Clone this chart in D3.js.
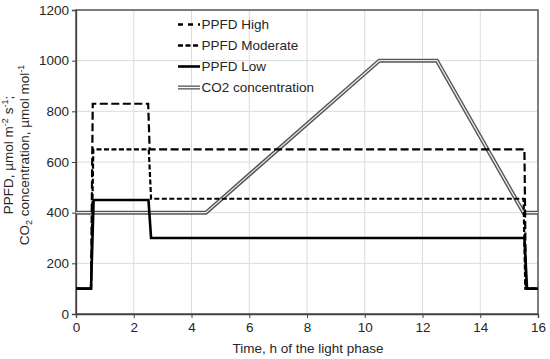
<!DOCTYPE html>
<html>
<head>
<meta charset="utf-8">
<script src="https://cdn.jsdelivr.net/npm/d3@7"></script>
<style>
  body { margin: 0; background: #fff; }
  svg text { font-family: "Liberation Sans", Arial, sans-serif; }
</style>
</head>
<body>
<svg width="550" height="359"></svg>
<script>
// time (h) and PPFD / CO2 values for each series
var lowT  = [0, 0.52, 0.61, 2.51, 2.6, 15.53, 15.62, 16];
var lowV  = [100, 100, 450, 450, 300, 300, 100, 100];
var highT = [0, 0.52, 0.58, 2.5, 2.55, 15.53, 15.58, 16];
var highV = [100, 100, 830, 830, 650, 650, 100, 100];
var modT  = [0, 0.52, 0.6, 2.52, 2.6, 15.5, 15.56, 16];
var modV  = [100, 100, 650, 650, 455, 455, 100, 100];
var co2T  = [0, 4.5, 10.5, 12.5, 15.5, 16];
var co2V  = [400, 400, 1000, 1000, 400, 400];

var xTicks = [0, 2, 4, 6, 8, 10, 12, 14, 16];
var yTicks = [0, 200, 400, 600, 800, 1000, 1200];

var svg = d3.select("svg"),
    margin = {left: 76, right: 12, top: 10, bottom: 45},
    width = +svg.attr("width"),
    height = +svg.attr("height");

var x = d3.scaleLinear().domain([0, 16]).range([margin.left, width - margin.right]);
var y = d3.scaleLinear().domain([0, 1200]).range([height - margin.bottom, margin.top]);

// grid
svg.append("g").selectAll("line").data(xTicks).enter().append("line")
    .attr("x1", function(d) { return x(d); }).attr("x2", function(d) { return x(d); })
    .attr("y1", y(0)).attr("y2", y(1200))
    .attr("stroke", "#dcdcdc").attr("stroke-width", 1);
svg.append("g").selectAll("line").data(yTicks).enter().append("line")
    .attr("y1", function(d) { return y(d); }).attr("y2", function(d) { return y(d); })
    .attr("x1", x(0)).attr("x2", x(16))
    .attr("stroke", "#dcdcdc").attr("stroke-width", 1);

// frame
svg.append("rect")
    .attr("x", x(0)).attr("y", y(1200))
    .attr("width", x(16) - x(0)).attr("height", y(0) - y(1200))
    .attr("fill", "none").attr("stroke", "#404040").attr("stroke-width", 1.3);

// axes
var xAxis = svg.append("g")
    .attr("transform", "translate(0," + y(0) + ")")
    .call(d3.axisBottom(x).tickValues(xTicks).tickFormat(d3.format("d")).tickSize(4).tickPadding(4));
var yAxis = svg.append("g")
    .attr("transform", "translate(" + x(0) + ",0)")
    .call(d3.axisLeft(y).tickValues(yTicks).tickFormat(d3.format("d")).tickSize(4).tickPadding(3));
[xAxis, yAxis].forEach(function(a) {
  a.attr("font-family", null);
  a.select(".domain").attr("stroke", "#404040").attr("stroke-width", 1.3);
  a.selectAll(".tick line").attr("stroke", "#404040");
  a.selectAll("text").attr("font-size", 13.5).attr("fill", "#262626");
});

function pts(ts, vs) { return ts.map(function(t, i) { return [t, vs[i]]; }); }
var line = d3.line().x(function(d) { return x(d[0]); }).y(function(d) { return y(d[1]); });

// CO2 double line
svg.append("path").attr("d", line(pts(co2T, co2V)))
    .attr("fill", "none").attr("stroke", "#555").attr("stroke-width", 4);
svg.append("path").attr("d", line(pts(co2T, co2V)))
    .attr("fill", "none").attr("stroke", "#e8e8e8").attr("stroke-width", 1.3);

svg.append("path").attr("d", line(pts(lowT, lowV)))
    .attr("fill", "none").attr("stroke", "#000").attr("stroke-width", 2.6);
svg.append("path").attr("d", line(pts(modT, modV)))
    .attr("fill", "none").attr("stroke", "#000").attr("stroke-width", 2.2)
    .attr("stroke-dasharray", "5,2.5");
svg.append("path").attr("d", line(pts(highT, highV)))
    .attr("fill", "none").attr("stroke", "#000").attr("stroke-width", 2.2)
    .attr("stroke-dasharray", "8,3.5");

// legend
var legend = [
  {name: "PPFD High", dash: "5,5", w: 2.4},
  {name: "PPFD Moderate", dash: "5,2.5", w: 2.4},
  {name: "PPFD Low", dash: null, w: 2.6},
  {name: "CO2 concentration", dash: null, w: 4, co2: true}
];
var lg = svg.append("g").selectAll("g").data(legend).enter().append("g")
    .attr("transform", function(d, i) { return "translate(178," + (24.5 + i * 21) + ")"; });
lg.append("line").attr("x1", 0).attr("x2", 22).attr("y1", 0).attr("y2", 0)
    .attr("stroke", function(d) { return d.co2 ? "#555" : "#000"; })
    .attr("stroke-width", function(d) { return d.w; })
    .attr("stroke-dasharray", function(d) { return d.dash; });
lg.filter(function(d) { return d.co2; }).append("line")
    .attr("x1", 0).attr("x2", 22).attr("y1", 0).attr("y2", 0)
    .attr("stroke", "#fff").attr("stroke-width", 1.4);
lg.append("text").attr("x", 23.5).attr("y", 4.8).attr("font-size", 13.5).attr("fill", "#262626")
    .text(function(d) { return d.name; });

// axis titles
svg.append("text").attr("x", (x(0) + x(16)) / 2 + 1).attr("y", 353)
    .attr("text-anchor", "middle").attr("font-size", 13.5).attr("fill", "#262626")
    .text("Time, h of the light phase");

var yt = svg.append("text").attr("transform", "translate(0,155) rotate(-90)")
    .attr("text-anchor", "middle").attr("font-size", 13.5).attr("fill", "#262626");
var l1 = yt.append("tspan").attr("x", 0).attr("y", 13);
l1.append("tspan").text("PPFD, µmol m");
l1.append("tspan").attr("dy", -5).attr("font-size", 9).text("-2");
l1.append("tspan").attr("dy", 5).text(" s");
l1.append("tspan").attr("dy", -5).attr("font-size", 9).text("-1");
l1.append("tspan").attr("dy", 5).text(";");
var l2 = yt.append("tspan").attr("x", 0).attr("y", 29);
l2.append("tspan").text("CO");
l2.append("tspan").attr("dy", 3).attr("font-size", 9).text("2");
l2.append("tspan").attr("dy", -3).text(" concentration, µmol mol");
l2.append("tspan").attr("dy", -5).attr("font-size", 9).text("-1");
</script>
</body>
</html>
